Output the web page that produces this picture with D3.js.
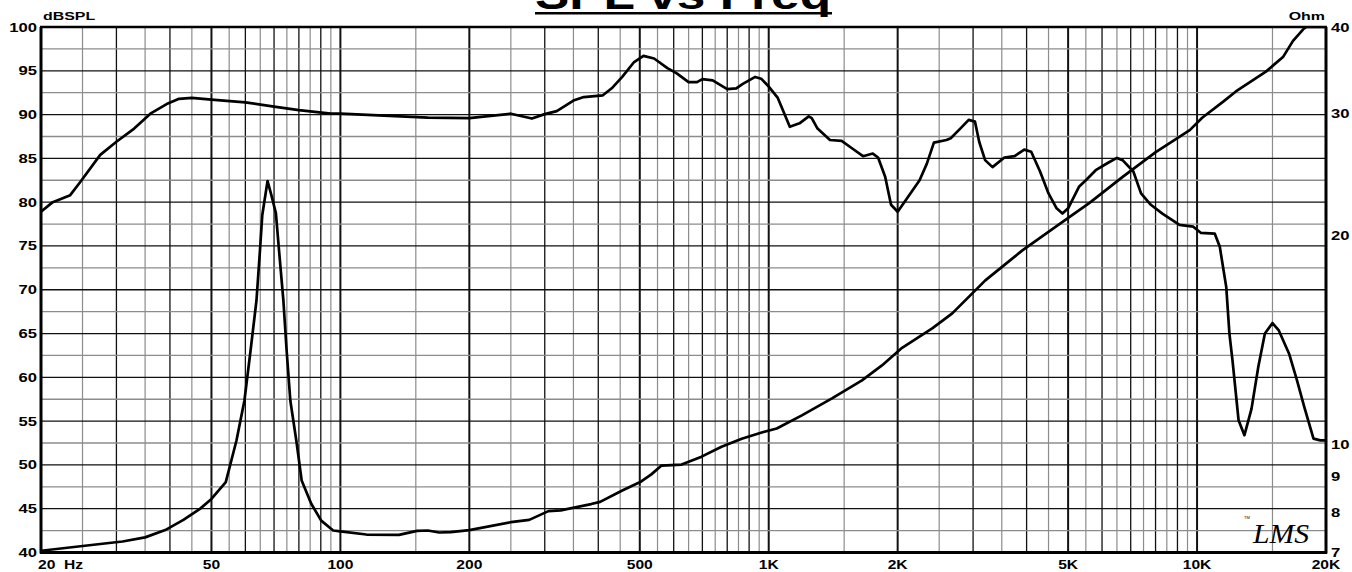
<!DOCTYPE html>
<html>
<head>
<meta charset="utf-8">
<script src="https://cdn.jsdelivr.net/npm/d3@7"></script>
<style>
  body { margin: 0; background: #fff; }
  svg { display: block; }
  text { font-family: "Liberation Sans", Arial, sans-serif; font-weight: bold; fill: #000; }
</style>
</head>
<body>
<svg id="chart" width="1352" height="572"></svg>
<script>
// SPL response [Hz, dB]
const splPoints = [
  [20, 78.9], [21.3, 80.0], [23.4, 80.8], [24.7, 82.3], [27.5, 85.4], [30, 86.9], [33, 88.4],
  [36, 90.1], [39.3, 91.2], [42, 91.8], [45, 91.9], [50, 91.7], [60, 91.4], [70, 90.9],
  [80, 90.5], [95, 90.1], [100, 90.1], [138, 89.8], [160, 89.65], [200, 89.6], [250, 90.1],
  [280, 89.55], [300, 90.05], [320, 90.4], [350, 91.6], [370, 92.0], [410, 92.2], [430, 93.0],
  [455, 94.3], [485, 96.0], [510, 96.7], [540, 96.4], [580, 95.3], [610, 94.7], [650, 93.7],
  [680, 93.7], [700, 94.05], [740, 93.9], [800, 92.9], [840, 93.0], [870, 93.5], [930, 94.3],
  [960, 94.1], [1000, 93.2], [1050, 91.9], [1120, 88.6], [1180, 89.0], [1240, 89.8],
  [1260, 89.6], [1300, 88.4], [1390, 87.1], [1480, 87.0], [1570, 86.1], [1660, 85.25],
  [1750, 85.55], [1800, 85.1], [1870, 82.9], [1930, 79.7], [2000, 78.9], [2100, 80.4],
  [2250, 82.5], [2340, 84.4], [2430, 86.8], [2600, 87.1], [2660, 87.3], [2800, 88.4],
  [2930, 89.4], [3030, 89.2], [3100, 86.9], [3200, 84.8], [3330, 84.0], [3550, 85.1],
  [3750, 85.25], [3950, 86.0], [4100, 85.75], [4300, 83.5], [4500, 81.0], [4700, 79.3],
  [4850, 78.7], [5000, 79.3], [5300, 81.75], [5500, 82.5], [5800, 83.65], [6200, 84.5],
  [6500, 85.05], [6700, 84.8], [7100, 83.5], [7400, 81.0], [7800, 79.7], [8300, 78.7],
  [9100, 77.4], [9800, 77.2], [10200, 76.5], [11000, 76.4], [11300, 74.9], [11700, 70.3],
  [11900, 65.0], [12100, 61.9], [12500, 55.1], [12900, 53.4], [13400, 56.4], [13900, 61.2],
  [14400, 65.0], [15000, 66.2], [15500, 65.4], [16400, 62.7], [17100, 59.7], [17800, 56.6],
  [18700, 53.0], [19400, 52.8], [20000, 52.8]
];

// impedance [Hz, Ohm]
const impPoints = [
  [20, 7.04], [27.5, 7.2], [31, 7.26], [35, 7.36], [39, 7.54], [43, 7.8], [47, 8.09],
  [50, 8.36], [54, 8.84], [57.2, 10.15], [59.7, 11.59], [61.7, 13.68], [63.7, 16.16],
  [64.9, 19.07], [65.7, 21.42], [67.6, 24.0], [69.1, 22.82], [70.7, 21.57], [71.9, 19.07],
  [73.6, 16.16], [74.9, 13.68], [76.4, 11.59], [78.9, 10.15], [81.2, 8.89], [85.5, 8.23],
  [90.2, 7.78], [96.2, 7.53], [100, 7.51], [115, 7.43], [137, 7.42], [151, 7.52], [160, 7.53],
  [170, 7.48], [181, 7.49], [200, 7.54], [250, 7.74], [276, 7.8], [306, 8.03], [327, 8.05],
  [385, 8.22], [404, 8.28], [455, 8.6], [504, 8.86], [532, 9.07], [562, 9.34], [626, 9.37],
  [697, 9.62], [776, 9.94], [865, 10.21], [963, 10.42], [1044, 10.56], [1195, 11.03],
  [1405, 11.67], [1651, 12.39], [1838, 13.02], [2048, 13.8], [2408, 14.72], [2682, 15.47],
  [3204, 17.26], [3910, 19.07], [4672, 20.61], [5610, 22.32], [6704, 24.33], [8008, 26.42],
  [9616, 28.41], [10280, 29.6], [11490, 31.2], [12320, 32.3], [14480, 34.5], [15870, 36.2],
  [16750, 38.2], [17690, 39.7], [18000, 40], [20000, 40]
];

const dbTicks = [100, 95, 90, 85, 80, 75, 70, 65, 60, 55, 50, 45, 40];
const ohmTicks = [40, 30, 20, 10, 9, 8, 7];
const freqTicks = [50, 100, 200, 500, 1000, 2000, 5000, 10000, 20000];
const freqTickLabels = ["50", "100", "200", "500", "1K", "2K", "5K", "10K", "20K"];
const gridMults = d3.range(1, 10, 0.5);
const decades = [10, 100, 1000, 10000];

const svg = d3.select("svg#chart");
const box = { left: 41, right: 1326, top: 27, bottom: 552.5 };

const x = d3.scaleLog().domain([20, 20000]).range([box.left, box.right]);
const y = d3.scaleLinear().domain([40, 100]).range([box.bottom, box.top]);
const yOhm = d3.scaleLog().domain([7, 40]).range([box.bottom, box.top]);

// title (top half is cut off by the page edge, as in the original)
svg.append("text")
  .attr("transform", "translate(683,9) scale(1.285,1)")
  .attr("text-anchor", "middle")
  .attr("font-size", 40)
  .text("SPL vs Freq");
svg.append("rect").attr("x", 535).attr("y", 12).attr("width", 297).attr("height", 2.5).attr("fill", "#000");

// grid
const grid = svg.append("g");
const vLines = [];
decades.forEach(d => gridMults.forEach(mm => {
  const f = d * mm;
  if (f > 20 && f < 20000) vLines.push({ f, mm });
}));
grid.selectAll("line.v")
  .data(vLines)
  .join("line")
  .attr("x1", d => x(d.f)).attr("x2", d => x(d.f))
  .attr("y1", box.top).attr("y2", box.bottom)
  .attr("stroke", d => Number.isInteger(d.mm) ? "#111" : "#8c8c8c")
  .attr("stroke-width", d => (d.mm === 1 || d.mm === 2 || d.mm === 5) ? 2 : (Number.isInteger(d.mm) ? 1.3 : 1.2));

grid.selectAll("line.h")
  .data(d3.range(42.5, 100, 2.5))
  .join("line")
  .attr("x1", box.left).attr("x2", box.right)
  .attr("y1", d => y(d)).attr("y2", d => y(d))
  .attr("stroke", d => d % 5 === 0 ? "#111" : "#8c8c8c")
  .attr("stroke-width", 1.3);

// curves
svg.append("clipPath").attr("id", "plotclip")
  .append("rect")
  .attr("x", box.left).attr("y", box.top)
  .attr("width", box.right - box.left).attr("height", box.bottom - box.top);

const curves = svg.append("g").attr("clip-path", "url(#plotclip)");
curves.append("path")
  .datum(splPoints)
  .attr("d", d3.line().x(d => x(d[0])).y(d => y(d[1])))
  .attr("fill", "none").attr("stroke", "#000").attr("stroke-width", 2.7)
  .attr("stroke-linejoin", "round");
curves.append("path")
  .datum(impPoints)
  .attr("d", d3.line().x(d => x(d[0])).y(d => yOhm(d[1])))
  .attr("fill", "none").attr("stroke", "#000").attr("stroke-width", 2.7)
  .attr("stroke-linejoin", "round");

// frame
const frame = svg.append("g").attr("stroke", "#000");
frame.append("line").attr("x1", box.left - 1).attr("x2", box.right + 1).attr("y1", box.top).attr("y2", box.top).attr("stroke-width", 2.5);
frame.append("line").attr("x1", box.left - 1).attr("x2", box.right + 1).attr("y1", box.bottom).attr("y2", box.bottom).attr("stroke-width", 3);
frame.append("line").attr("x1", box.left).attr("x2", box.left).attr("y1", box.top).attr("y2", box.bottom + 1).attr("stroke-width", 3);
frame.append("line").attr("x1", box.right).attr("x2", box.right).attr("y1", box.top).attr("y2", box.bottom + 1).attr("stroke-width", 3);

// axis labels
svg.append("g").selectAll("text")
  .data(dbTicks)
  .join("text")
  .attr("transform", d => `translate(37,${y(d) + 4.5}) scale(1.33,1)`)
  .attr("text-anchor", "end")
  .attr("font-size", 12.5)
  .text(d => d);

svg.append("g").selectAll("text")
  .data(ohmTicks)
  .join("text")
  .attr("transform", d => `translate(1331,${yOhm(d) + 4.5}) scale(1.33,1)`)
  .attr("text-anchor", "start")
  .attr("font-size", 12.5)
  .text(d => d);

svg.append("g").selectAll("text")
  .data(freqTicks)
  .join("text")
  .attr("transform", d => `translate(${x(d)},569) scale(1.25,1)`)
  .attr("text-anchor", "middle")
  .attr("font-size", 12.5)
  .text((d, i) => freqTickLabels[i]);

svg.append("text")
  .attr("transform", "translate(38,569) scale(1.25,1)")
  .attr("font-size", 12.5)
  .style("white-space", "pre")
  .text("20  Hz");

svg.append("text")
  .attr("transform", "translate(43,20) scale(1.45,1)")
  .attr("font-size", 11)
  .text("dBSPL");
svg.append("text")
  .attr("transform", "translate(1325,20) scale(1.45,1)")
  .attr("text-anchor", "end")
  .attr("font-size", 11)
  .text("Ohm");

// LMS mark
svg.append("text")
  .attr("x", 1253).attr("y", 543)
  .style("font-family", "'Liberation Serif', serif")
  .style("font-weight", "normal")
  .style("font-style", "italic")
  .attr("font-size", 28)
  .attr("textLength", 56).attr("lengthAdjust", "spacingAndGlyphs")
  .text("LMS");
svg.append("text")
  .attr("x", 1244).attr("y", 519)
  .style("font-weight", "normal")
  .attr("font-size", 4)
  .text("TM");
</script>
</body>
</html>
